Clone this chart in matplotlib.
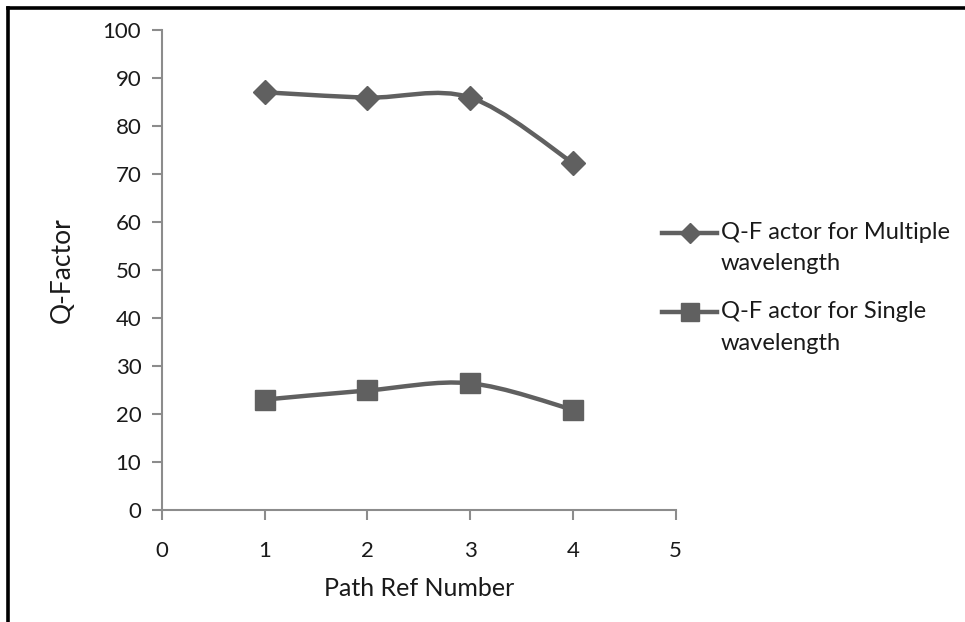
import numpy as np
import matplotlib
matplotlib.use("Agg")
import matplotlib.pyplot as plt
from matplotlib.path import Path
from matplotlib.patches import PathPatch
from matplotlib.lines import Line2D

path_ref = [1, 2, 3, 4]
q_multiple = [87.0, 85.9, 85.9, 72.3]
q_single = [23.0, 24.9, 26.4, 20.9]
legend_lines = [("Q-F actor for Multiple", "wavelength"), ("Q-F actor for Single", "wavelength")]

GRAY = "#606060"
AXIS = "#8c8c8c"
INK = "#1a1a1a"
W, H = 965, 622
plt.rcParams["font.family"] = ["Lato", "DejaVu Sans"]


def smooth_path(xs, ys):
    # Catmull-Rom style Bezier segments through every point
    pts = np.column_stack([xs, ys]).astype(float)
    ext = np.vstack([pts[0], pts, pts[-1]])
    verts = [tuple(pts[0])]
    codes = [Path.MOVETO]
    for i in range(1, len(ext) - 2):
        p0, p1, p2, p3 = ext[i - 1], ext[i], ext[i + 1], ext[i + 2]
        c1 = p1 + (p2 - p0) / 6.0
        c2 = p2 - (p3 - p1) / 6.0
        verts += [tuple(c1), tuple(c2), tuple(p2)]
        codes += [Path.CURVE4] * 3
    return Path(verts, codes)


fig = plt.figure(figsize=(W / 100, H / 100), dpi=100)
ax = fig.add_axes([0.168, 0.180, 0.532, 0.772])

markers = [("D", 12), ("s", 14)]
for ys, (mk, ms) in zip([q_multiple, q_single], markers):
    ax.add_patch(PathPatch(smooth_path(path_ref, ys), fill=False, edgecolor=GRAY,
                           lw=3.2, capstyle="round", zorder=2))
    ax.plot(path_ref, ys, ls="none", marker=mk, ms=ms, color=GRAY, zorder=3)

ax.set_xlim(0, 5)
ax.set_ylim(0, 100)
ax.set_xticks(range(0, 6))
ax.set_yticks(range(0, 101, 10))
for s in ("top", "right"):
    ax.spines[s].set_visible(False)
for s in ("left", "bottom"):
    ax.spines[s].set_color(AXIS)
    ax.spines[s].set_linewidth(1.5)
ax.tick_params(axis="both", color=AXIS, width=1.5, length=7, labelsize=16, labelcolor=INK)
ax.tick_params(axis="x", pad=15)
ax.tick_params(axis="y", pad=8)
ax.set_xlabel("Path Ref Number", fontsize=18, labelpad=12, color=INK)
ax.set_ylabel("Q-Factor", fontsize=19, labelpad=20, color=INK)

# legend drawn by hand: handle sits on the first text line
for (l1, l2), (mk, ms), yc in zip(legend_lines, [("D", 10), ("s", 13)], [233, 312]):
    fy = 1 - yc / H
    fig.add_artist(Line2D([662 / W, 717 / W], [fy, fy], color=GRAY, lw=3.2,
                          transform=fig.transFigure))
    fig.add_artist(Line2D([689.5 / W], [fy], color=GRAY, marker=mk, ms=ms, ls="none",
                          transform=fig.transFigure))
    fig.text(721 / W, fy, l1, fontsize=17, color=INK, va="center", ha="left")
    fig.text(721 / W, 1 - (yc + 31) / H, l2, fontsize=17, color=INK, va="center", ha="left")

# frame lines along the left and top edges
fig.add_artist(Line2D([8 / W, 8 / W], [0, 1 - 8 / H], color="black", lw=2.6,
                      transform=fig.transFigure, solid_capstyle="projecting"))
fig.add_artist(Line2D([8 / W, 1], [1 - 8 / H, 1 - 8 / H], color="black", lw=2.6,
                      transform=fig.transFigure, solid_capstyle="projecting"))

fig.savefig("out.png", dpi=100, facecolor="white")
